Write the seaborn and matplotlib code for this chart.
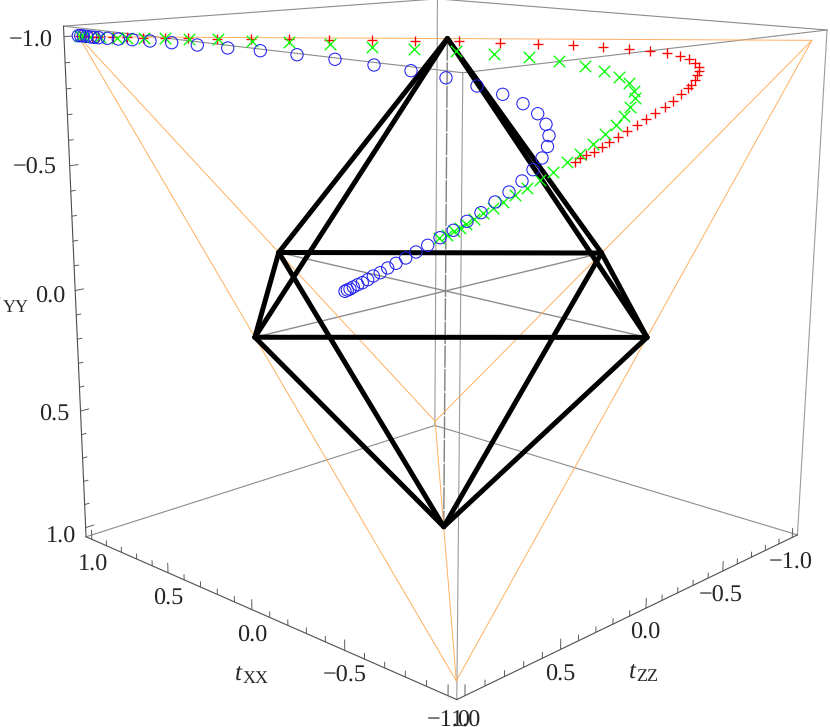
"""
plot.py
Tetrahedron / octahedron correlation plot (tXX, tYY, tZZ) drawn on a flat
seaborn axes. The 3D box is mapped to the picture by a perspective camera
fitted to points read from the reference.
"""

import numpy as np
import pandas as pd
import matplotlib
matplotlib.use("Agg")
import matplotlib.pyplot as plt
import seaborn as sns

WIDTH, HEIGHT = 830, 727
BOX = 1.04

# Trajectories, projected onto the page
RED_X = [80, 85, 92, 98, 113.3, 126.7, 143.3, 165, 188.3, 216.7, 250.7, 288.7, 328.7, 371.7, 415.3,
         459, 500, 538.3, 572.7, 602.7, 628.7, 649.7, 667, 679.7, 688.7, 695.3, 698.7, 699, 697.3,
         695, 691, 687.7, 680.7, 673.3, 664.7, 655, 646.3, 636.7, 627, 618.3, 609.3, 601.7, 594,
         585.7, 580, 574.7]
RED_Y = [36, 36.3, 36.5, 36.7, 37.3, 37.3, 37.7, 38, 38.3, 38.7, 39.3, 39.3, 40, 40, 41,
         41.3, 42.7, 43.7, 45, 46.7, 48.7, 50.7, 53, 56, 59.3, 63.3, 67.3, 70.7, 75.3,
         80, 84.7, 88.3, 94.3, 100.7, 106.7, 113.3, 119, 125.3, 131.3, 136.7, 142, 147, 151.7,
         155.3, 158.3, 161.7]

GREEN_X = [80, 83, 90, 100, 116.7, 127, 144.3, 164.7, 189.3, 217.7, 251.7, 289.3, 330.3, 372.3, 414.3,
           455.7, 494.3, 529.3, 559.3, 584.7, 604.3, 619, 628.7, 633.7, 634.7, 630.3, 624.3, 615.7,
           605.3, 592.7, 580, 567.3, 553, 540, 527.3, 515, 503.3, 493.3, 483.3, 474, 466, 460, 454,
           447.3, 439.3]
GREEN_Y = [36, 36, 36.7, 37.3, 38, 38.3, 38.3, 38.3, 38.7, 39.3, 40.7, 42, 44.3, 47, 48.7,
           50.7, 53.7, 57, 60.7, 66, 70.7, 77, 83.3, 91, 98.3, 106.7, 115.7, 125,
           134.3, 144, 153.5, 162, 172, 180, 187.8, 195, 201.7, 208.3, 213.3, 219.3, 224, 227.7, 231,
           234.7, 237.7]

BLUE_X = [78.3, 80.7, 83.3, 86.7, 90.7, 94.3, 98.7, 107.3, 118.3, 132.3, 150, 171.7, 197.3, 227.7,
          260.3, 297, 335, 374, 411, 446, 477, 502.7, 523, 537.7, 546, 549, 547.5, 542, 533,
          522, 509, 495, 481, 467, 453.3, 440, 427.7, 416, 405.7, 396, 387.7, 380.3, 373.3,
          367.7, 362.3, 357.7, 353.3, 350, 347.3, 345]
BLUE_Y = [35.7, 35.7, 36, 36.3, 37, 37.3, 37.7, 38.3, 39, 39.7, 41, 42.7, 45, 48,
          50.7, 54.7, 59.3, 65, 70.7, 77.8, 86, 94.3, 103.7, 113.7, 124.3, 135.7, 146.5, 158, 169.7,
          181, 192, 202, 212.7, 221.3, 230.3, 237.7, 245.3, 252, 258, 263.3, 268, 272.7, 276,
          279.7, 282.7, 284.7, 287, 289, 290, 291.3]

# Solids in (tXX, tYY, tZZ)
TETRA = [(1, -1, 1), (-1, -1, -1), (1, 1, -1), (-1, 1, 1)]
TETRA_EDGES = [(0, 1), (0, 2), (0, 3), (1, 2), (1, 3), (2, 3)]
OCTA_TOP, OCTA_BOTTOM = (0, -1, 0), (0, 1, 0)
OCTA_RING = [(0, 0, 1), (1, 0, 0), (0, 0, -1), (-1, 0, 0)]

TICK_VALUES = [round(-1 + 0.1 * i, 1) for i in range(21)]

LEFT_LABELS = ["\u22121.0", "\u22120.5", "0.0", "0.5", "1.0"]
LEFT_LABEL_RIGHT = [53, 57, 65, 69, 76]
LEFT_LABEL_BASE = [47, 174, 303, 421, 543]

XX_LABELS = ["1.0", "0.5", "0.0", "\u22120.5", "\u22121.0"]
XX_LABEL_X = [93.5, 168, 252, 345, 449]
XX_LABEL_BASE = [571, 605, 642, 682, 727]

ZZ_LABELS = ["1.0", "0.5", "0.0", "\u22120.5", "\u22121.0"]
ZZ_LABEL_X = [466, 560, 645, 721, 790.5]
ZZ_LABEL_BASE = [727, 681, 639, 602, 569]

# Reference points for the camera: (tXX, tYY, tZZ) -> page pixel
CAMERA_3D = [(BOX, -BOX, BOX), (-BOX, -BOX, -BOX), (BOX, -BOX, -BOX), (-BOX, -BOX, BOX),
             (BOX, BOX, BOX), (-BOX, BOX, -BOX), (BOX, BOX, -BOX), (-BOX, BOX, BOX),
             (1, -1, 1), (-1, -1, -1), (1, 1, -1), (-1, 1, 1),
             (0, -1, 0), (0, 1, 0), (0, 0, 1), (-1, 0, 0), (1, 0, 0), (0, 0, -1), (0, 0, 0)]
CAMERA_PX = [(63, 26), (828, 30), (437, -2), (463, 72),
             (85, 537), (798, 535), (436, 426), (457, 700),
             (80, 37), (811, 41), (435, 421), (456, 680),
             (447, 38), (443, 525), (255, 338), (648, 338), (280, 253), (600, 253), (445, 292)]


def fit_camera(points, pixels):
    """Least squares perspective matrix, with the last entry fixed to 1."""
    rows, targets = [], []
    for (x, y, z), (u, v) in zip(points, pixels):
        rows.append([x, y, z, 1, 0, 0, 0, 0, -u * x, -u * y, -u * z])
        rows.append([0, 0, 0, 0, x, y, z, 1, -v * x, -v * y, -v * z])
        targets += [u, v]
    sol = np.linalg.lstsq(np.array(rows, float), np.array(targets, float), rcond=None)[0]
    return np.append(sol, 1).reshape(3, 4)


CAMERA = fit_camera(CAMERA_3D, CAMERA_PX)


def project(point):
    u, v, w = CAMERA @ np.append(point, 1)
    return u / w, v / w


def draw_edges(ax, edges, color, width, **kws):
    """edges is a list of (start, end) pairs in box coordinates."""
    rows = []
    for i, (start, end) in enumerate(edges):
        for order, p in enumerate((start, end)):
            px, py = project(p)
            rows.append({"edge": i, "order": order, "px": px, "py": py})
    sns.lineplot(data=pd.DataFrame(rows), x="px", y="py", units="edge", estimator=None,
                 sort=False, color=color, linewidth=width, ax=ax, legend=False, **kws)


def tick_edges(make_start, direction):
    edges = []
    for t in TICK_VALUES:
        length = 0.04 if round(t * 10) % 5 == 0 else 0.022
        start = np.array(make_start(t), float)
        edges.append((start, start + length * np.array(direction, float)))
    return edges


def add_t_label(ax, sub, x, base, t_gap=0):
    ax.text(x - t_gap, base - 3, "t", fontsize=18, fontstyle="italic", ha="right", va="baseline")
    ax.text(x + 0.5, base, sub, fontsize=13, ha="left", va="baseline")


def main():
    sns.set_theme(style="white")
    plt.rcParams["font.family"] = ["Liberation Serif", "DejaVu Serif"]
    plt.rcParams["lines.solid_capstyle"] = "round"
    plt.rcParams["text.hinting"] = "none"

    fig = plt.figure(figsize=(WIDTH / 100, HEIGHT / 100), dpi=100)
    ax = fig.add_axes([0, 0, 1, 1])

    b = BOX
    back_frame = [((b, -b, b), (b, -b, -b)), ((b, -b, -b), (-b, -b, -b)),
                  ((b, -b, b), (-b, -b, b)), ((-b, -b, b), (-b, -b, -b)),
                  ((b, b, b), (b, b, -b)), ((b, b, -b), (-b, b, -b))]
    uprights = [((b, -b, -b), (b, b, -b)), ((-b, -b, b), (-b, b, b)), ((-b, -b, -b), (-b, b, -b))]
    front_frame = [((b, -b, b), (b, b, b)), ((b, b, b), (-b, b, b)), ((-b, b, b), (-b, b, -b))]

    draw_edges(ax, back_frame, "#8c8c8c", 0.8)
    draw_edges(ax, uprights, "#9a9a9a", 0.8)
    draw_edges(ax, front_frame, "#4d4d4d", 0.8)

    draw_edges(ax, tick_edges(lambda t: (b, t, b), (0, 0, -1)), "#5a5a5a", 0.7)
    draw_edges(ax, tick_edges(lambda t: (t, b, b), (0, -1, 0)), "#5a5a5a", 0.7)
    draw_edges(ax, tick_edges(lambda t: (-b, b, t), (0, -1, 0)), "#5a5a5a", 0.7)

    draw_edges(ax, [(OCTA_RING[1], OCTA_RING[3]), (OCTA_RING[0], OCTA_RING[2])], "#8c8c8c", 1.0)
    draw_edges(ax, [(OCTA_TOP, OCTA_BOTTOM)], "#808080", 1.0, linestyle=(0, (16, 1)))

    tetra_lines = [(TETRA[i], TETRA[j]) for i, j in TETRA_EDGES]
    draw_edges(ax, tetra_lines, "#ffb060", 0.7)

    octa_lines = []
    for i, p in enumerate(OCTA_RING):
        octa_lines += [(OCTA_TOP, p), (OCTA_BOTTOM, p), (p, OCTA_RING[(i + 1) % 4])]
    draw_edges(ax, octa_lines, "black", 3.6)

    sns.scatterplot(x=RED_X, y=RED_Y, marker="+", s=60, color="#ff0000", linewidth=0.95,
                    ax=ax, legend=False, zorder=4)
    sns.scatterplot(x=GREEN_X, y=GREEN_Y, marker="x", s=68, color="#00ff00", linewidth=0.95,
                    ax=ax, legend=False, zorder=5)
    sns.scatterplot(x=BLUE_X, y=BLUE_Y, marker="o", s=78, facecolor="none", edgecolor="#2020f0",
                    linewidth=0.75, ax=ax, legend=False, zorder=6)

    for text, x, base in zip(LEFT_LABELS, LEFT_LABEL_RIGHT, LEFT_LABEL_BASE):
        ax.text(x, base, text, fontsize=17.5, ha="right", va="baseline")
    for text, x, base in zip(XX_LABELS, XX_LABEL_X, XX_LABEL_BASE):
        ax.text(x, base, text, fontsize=17.5, ha="center", va="baseline")
    for text, x, base in zip(ZZ_LABELS, ZZ_LABEL_X, ZZ_LABEL_BASE):
        ax.text(x, base, text, fontsize=17.5, ha="center", va="baseline")

    add_t_label(ax, "YY", 2, 312, t_gap=2)
    add_t_label(ax, "XX", 242, 683)
    add_t_label(ax, "ZZ", 636, 681)

    ax.set_xlim(0, WIDTH)
    ax.set_ylim(HEIGHT, 0)
    ax.axis("off")
    fig.savefig("out.png", dpi=100, facecolor="white")
    plt.close(fig)


if __name__ == "__main__":
    main()
